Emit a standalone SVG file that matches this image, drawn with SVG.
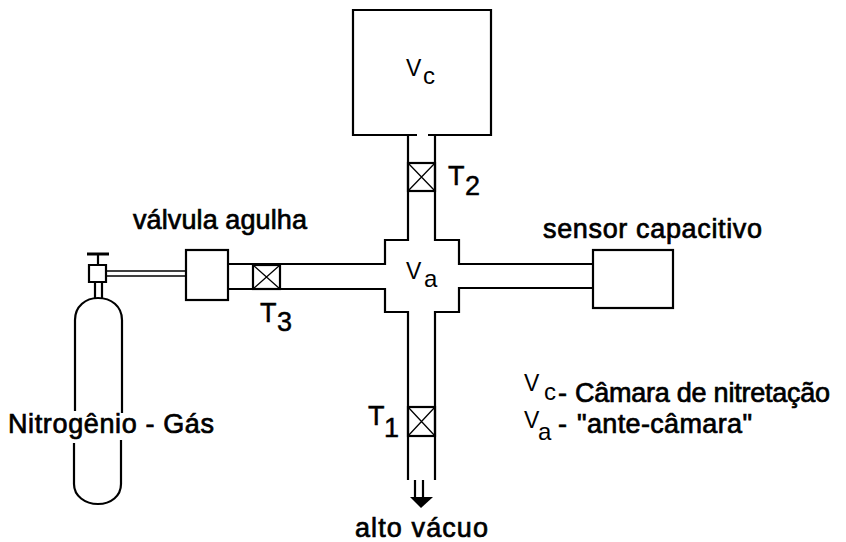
<svg xmlns="http://www.w3.org/2000/svg" width="846" height="542" viewBox="0 0 846 542">
<style>
.l{fill:none;stroke:#000;stroke-width:2.2}
.x{stroke:#000;stroke-width:1.3;fill:none}
text{font-family:"Liberation Sans",Arial,sans-serif;fill:#000;font-size:27px;stroke:#000;stroke-width:.7}
.s{font-size:27px;stroke-width:.5}
.v{font-size:23px;stroke-width:0}
.u{font-size:24px;stroke-width:0}
</style>
<rect width="846" height="542" fill="#fff"/>
<g id="connectors">
<path class="l" d="M408 135V240H385V264H228M435 135V240H459V264H593M228 289H385V312H408V480M593 288H459V312H435V480"/>
<path class="l" d="M106 271H186M106 276H186" style="stroke-width:1.6"/>
<path class="l" d="M415 480V497M423 480V497"/>
<path d="M410 497H433L421 508Z" fill="#000"/>
</g>
<g id="vc"><path class="l" d="M417 135H353V10H491V135H428"/><text class="v" x="406" y="76">V</text><text class="u" x="423" y="84">c</text></g>
<g id="va"><text class="v" x="406" y="279">V</text><text class="u" x="424" y="287">a</text></g>
<g id="t2"><rect class="l" x="408" y="163" width="27" height="28"/><path class="x" d="M408 163L435 191M435 163L408 191"/><text class="s" x="448" y="185">T</text><text class="s" x="465" y="195">2</text></g>
<g id="t3"><rect class="l" x="253" y="265" width="27" height="24"/><path class="x" d="M253 265L280 289M280 265L253 289"/><text class="s" x="260" y="322">T</text><text class="s" x="277" y="331">3</text></g>
<g id="t1"><rect class="l" x="408" y="407" width="27" height="29"/><path class="x" d="M408 407L435 436M435 407L408 436"/><text class="s" x="368" y="425">T</text><text class="s" x="384" y="437">1</text></g>
<g id="valvula"><rect class="l" x="186" y="250" width="42" height="50"/><text x="133" y="229" textLength="174">válvula agulha</text></g>
<g id="sensor"><rect class="l" x="593" y="250" width="80" height="58"/><text x="543" y="238" textLength="219">sensor capacitivo</text></g>
<g id="cilindro">
<path class="l" d="M89 265H106V282H89ZM98 265V254M95 282V298M102 282V298"/>
<path d="M87 254H109" stroke="#000" stroke-width="3"/>
<path class="l" d="M75 411V320C75 306 86 298 98 298C111 298 122 306 122 320V413M121 440V484C121 496 111 504 98 504C85 504 74 496 74 484V443"/>
<text x="8" y="433" textLength="206">Nitrogênio - Gás</text>
</g>
<g id="vacuo"><text x="355" y="537" textLength="133">alto vácuo</text></g>
<g id="legenda">
<text class="v" x="524" y="391">V</text><text class="u" x="544" y="400">c</text><text x="558" y="402">-</text><text x="575" y="402" textLength="255">Câmara de nitretação</text>
<text class="v" x="524" y="428">V</text><text class="u" x="538" y="440">a</text><text x="558" y="433">-</text><text x="577" y="433" textLength="175">"ante-câmara"</text>
</g>
</svg>
